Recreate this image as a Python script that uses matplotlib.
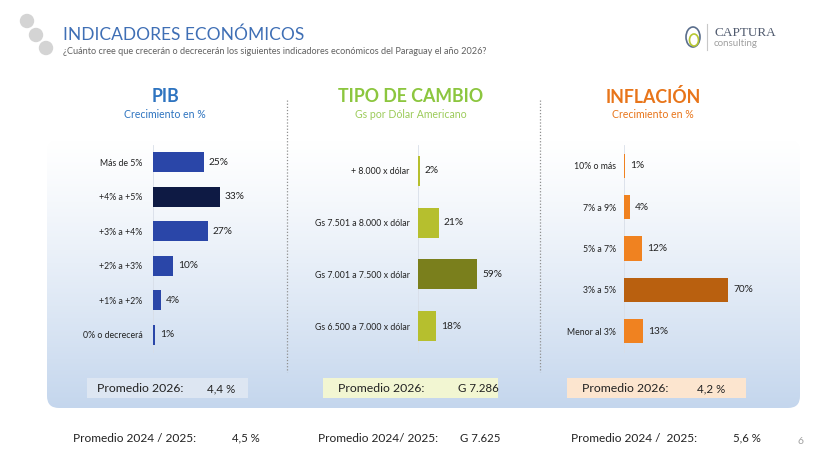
import numpy as np
import matplotlib as mpl
import matplotlib.pyplot as plt
from matplotlib.patches import FancyBboxPatch, Circle, Ellipse, Rectangle

mpl.rcParams['font.family'] = ['Lato', 'DejaVu Sans']

W, H = 822, 462

# datos
pib_labels = ["Más de 5%", "+4% a +5%", "+3% a +4%", "+2% a +3%", "+1% a +2%", "0% o decrecerá"]
pib_values = [25, 33, 27, 10, 4, 1]

tc_labels = ["+ 8.000 x dólar", "Gs 7.501 a 8.000 x dólar", "Gs 7.001 a 7.500 x dólar", "Gs 6.500 a 7.000 x dólar"]
tc_values = [2, 21, 59, 18]

inf_labels = ["10% o más", "7% a 9%", "5% a 7%", "3% a 5%", "Menor al 3%"]
inf_values = [1, 4, 12, 70, 13]

prom_2026 = ["4,4 %", "G 7.286", "4,2 %"]
prom_prev = ["4,5 %", "G 7.625", "5,6 %"]
prom_prev_txt = ["Promedio 2024 / 2025:", "Promedio 2024/ 2025:", "Promedio 2024 /  2025:"]


def rect(x0, y0, x1, y1):
    # pixeles -> fraccion de figura
    return [x0 / W, 1 - y1 / H, (x1 - x0) / W, (y1 - y0) / H]


fig = plt.figure(figsize=(W / 100, H / 100), dpi=100)
bg = fig.add_axes([0, 0, 1, 1])
bg.set_xlim(0, W)
bg.set_ylim(H, 0)
bg.axis('off')

# panel con degradado
panel = FancyBboxPatch((47, 140), 753, 268, boxstyle="round,pad=0,rounding_size=12",
                       facecolor='none', edgecolor='none')
bg.add_patch(panel)
grad = np.linspace(0, 1, 256).reshape(-1, 1) ** 1.2
top = np.array([1.0, 1.0, 1.0])
bot = np.array([0.77, 0.84, 0.93])
img = top + (bot - top) * grad[..., None]
im = bg.imshow(img, extent=(47, 800, 408, 140), aspect='auto', zorder=0)
im.set_clip_path(panel)

# circulos grises
for cx, cy in [(27, 21), (36, 35), (46, 48)]:
    bg.add_patch(Circle((cx, cy), 6.5, color='#D4D4D4', zorder=1))

bg.text(63, 35, "INDICADORES ECONÓMICOS", fontsize=12.5, color='#3F6FB5', va='center')
bg.text(63, 51, "¿Cuánto cree que crecerán o decrecerán los siguientes indicadores económicos del Paraguay el año 2026?",
        fontsize=6.6, color='#606060', va='center')

# logo
bg.add_patch(Ellipse((693, 37), 14, 20, fill=False, edgecolor='#5A6E8C', lw=1.2))
bg.add_patch(Ellipse((694, 40), 9, 12, fill=False, edgecolor='#B8C832', lw=1.2))
bg.plot([707, 707], [24, 50], color='#C8C8C8', lw=0.8)
bg.text(714, 33, "CAPTURA", fontsize=9.5, color='#505A6E', va='center', family=['Liberation Serif'])
bg.text(714, 44, "consulting", fontsize=7, color='#A0A0A0', va='center')

# separadores
for x in [287, 540]:
    bg.plot([x, x], [100, 372], color='#909090', lw=0.9, ls=(0, (1, 1.5)))

# encabezados
heads = [(165, "PIB", "Crecimiento en %", '#2E74C0', '#2E74C0'),
         (411, "TIPO DE CAMBIO", "Gs por Dólar Americano", '#8CC63F', '#9CCB5A'),
         (653, "INFLACIÓN", "Crecimiento en %", '#E8751A', '#E8751A')]
for x, t, s, c1, c2 in heads:
    bg.text(x, 97, t, fontsize=12.8, fontweight='bold', color=c1, ha='center', va='center')
    bg.text(x, 115, s, fontsize=7.6, color=c2, ha='center', va='center')


def barras(left, pxpp, labels, values, color, dark, bh, pad):
    width = 190
    ax = fig.add_axes(rect(left, 145, left + width, 352))
    ax.patch.set_alpha(0)
    y = np.arange(len(values))
    imax = int(np.argmax(values))
    cols = [dark if i == imax else color for i in range(len(values))]
    ax.barh(y, values, height=bh, color=cols, edgecolor='none', zorder=3)
    ax.set_xlim(0, width / pxpp)
    ax.set_ylim(len(values) - 0.5, -0.5)
    ax.set_yticks(y)
    ax.set_yticklabels(labels, fontsize=6.3, color='#222222')
    ax.tick_params(axis='y', length=0, pad=pad)
    ax.set_xticks([])
    for s in ['top', 'right', 'bottom']:
        ax.spines[s].set_visible(False)
    ax.spines['left'].set_color('#D8DEE8')
    ax.spines['left'].set_linewidth(0.6)
    for yi, v in zip(y, values):
        ax.text(v + 5 / pxpp, yi, f"{v}%", fontsize=7.3, color='#222222', va='center')
    return ax


barras(153, 2.03, pib_labels, pib_values, '#2A46A8', '#0E1A44', 0.58, 7.5)
barras(418, 1.0, tc_labels, tc_values, '#B6BF2E', '#7A7F1C', 0.58, 6)
barras(624, 1.49, inf_labels, inf_values, '#F08220', '#B9600F', 0.58, 6)

# promedios 2026
boxes = [(87, 248, 97, 207, '#DDE6F2'), (323, 498, 338, 458, '#F2F6D2'), (567, 746, 582, 697, '#FCE5CF')]
for (x0, x1, xt, xv, fc), val in zip(boxes, prom_2026):
    bg.add_patch(Rectangle((x0, 378), x1 - x0, 20, facecolor=fc, edgecolor='none', zorder=2))
    bg.text(xt, 389, "Promedio 2026:", fontsize=8.8, color='#222222', va='center', zorder=3)
    bg.text(xv, 389, val, fontsize=8.3, color='#222222', va='center', zorder=3)

# promedios anteriores
for xt, xv, txt, val in zip([73, 318, 571], [232, 460, 733], prom_prev_txt, prom_prev):
    bg.text(xt, 438, txt, fontsize=8.6, color='#222222', va='center')
    bg.text(xv, 438, val, fontsize=8.2, color='#222222', va='center')

bg.text(797, 441, "6", fontsize=7.5, color='#A0A0A0', va='center')

fig.savefig("out.png", dpi=100)
